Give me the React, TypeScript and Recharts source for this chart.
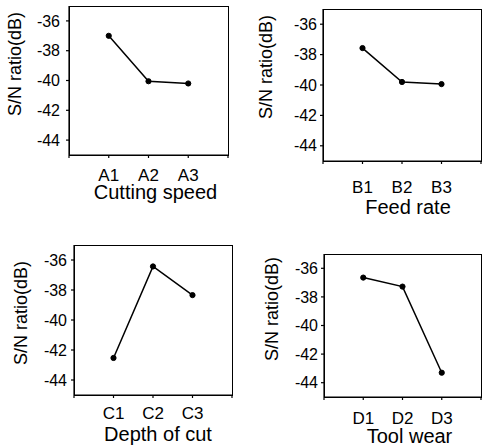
import React from 'react';
import { LineChart, Line, XAxis, YAxis } from 'recharts';

// ---- data ----
const cuttingSpeedLevels = ['A1', 'A2', 'A3'];
const cuttingSpeedSN = [-37.0, -40.05, -40.2];

const feedRateLevels = ['B1', 'B2', 'B3'];
const feedRateSN = [-37.57, -39.8, -39.94];

const depthOfCutLevels = ['C1', 'C2', 'C3'];
const depthOfCutSN = [-42.53, -36.43, -38.34];

const toolWearLevels = ['D1', 'D2', 'D3'];
const toolWearSN = [-36.65, -37.28, -43.3];

const yTicks = [-36, -38, -40, -42, -44];
const yDomain: [number, number] = [-45, -35];
const xDomain: [number, number] = [0, 4];
const xPositions = [0, 1, 2, 3, 4];
const yAxisTitle = 'S/N ratio(dB)';
const xAxisTitles = ['Cutting speed', 'Feed rate', 'Depth of cut', 'Tool wear'];

const FONT = '"Liberation Sans", Arial, Helvetica, sans-serif';
const INK = '#000';
const SW = 1.2;

type PanelProps = {
  left: number;
  top: number;
  width: number;
  height: number;
  boxTop: number;
  boxLeft: number;
  boxRight: number;
  xAxisHeight: number;
  levels: string[];
  values: number[];
  xTickMargin: number;
  yTickMargin: number;
};

function Panel(p: PanelProps) {
  const data = p.levels.map((lv, i) => ({ x: i + 1, level: lv, sn: p.values[i] }));
  const fmt = (v: number) => (v >= 1 && v <= p.levels.length ? p.levels[v - 1] : '');
  const plotW = p.boxRight - p.boxLeft;
  const plotH = p.height - p.xAxisHeight - p.boxTop;
  return (
    <div style={{ position: 'absolute', left: p.left, top: p.top, width: p.width, height: p.height }}>
      <LineChart
        width={p.width}
        height={p.height}
        data={data}
        margin={{ top: p.boxTop, left: 0, right: p.width - p.boxRight, bottom: 0 }}
      >
        <XAxis
          dataKey="x"
          type="number"
          domain={xDomain}
          ticks={xPositions}
          tickFormatter={fmt}
          height={p.xAxisHeight}
          stroke={INK}
          strokeWidth={SW}
          tickSize={3}
          tickMargin={p.xTickMargin}
          tick={{ fill: INK, fontSize: 17, fontFamily: FONT }}
          interval={0}
        />
        <YAxis
          type="number"
          domain={yDomain}
          ticks={yTicks}
          width={p.boxLeft}
          stroke={INK}
          strokeWidth={SW}
          tickSize={3}
          tickMargin={p.yTickMargin}
          tick={{ fill: INK, fontSize: 16, fontFamily: FONT }}
          interval={0}
        />
        <Line
          type="linear"
          dataKey="sn"
          stroke={INK}
          strokeWidth={1.5}
          dot={{ r: 2.6, fill: INK, stroke: INK, strokeWidth: 1 }}
          isAnimationActive={false}
        />
      </LineChart>
      {/* frame around the plotting area */}
      <div
        style={{
          position: 'absolute',
          left: p.boxLeft - 0.5,
          top: p.boxTop - 0.5,
          width: plotW + 1,
          height: plotH + 1,
          border: `1px solid ${INK}`,
          boxSizing: 'border-box',
          pointerEvents: 'none',
        }}
      />
    </div>
  );
}

// axis titles: [centerX, centerY] for rotated y titles, [centerX, baseline] for x titles
const yTitlePos = [[15, 64], [266, 67], [21, 313], [272, 309]];
const xTitlePos = [[155.5, 199], [408, 214], [158, 441], [409.5, 443]];

function Titles() {
  return (
    <svg width={482} height={445} style={{ position: 'absolute', left: 0, top: 0, pointerEvents: 'none' }}>
      {yTitlePos.map(([x, y], i) => (
        <text
          key={'y' + i}
          x={x}
          y={y}
          transform={`rotate(-90 ${x} ${y})`}
          textAnchor="middle"
          dominantBaseline="central"
          fontSize={18}
          fontFamily={FONT}
          fill={INK}
        >
          {yAxisTitle}
        </text>
      ))}
      {xTitlePos.map(([x, y], i) => (
        <text key={'x' + i} x={x} y={y} textAnchor="middle" fontSize={20} fontFamily={FONT} fill={INK}>
          {xAxisTitles[i]}
        </text>
      ))}
    </svg>
  );
}

export default function App() {
  return (
    <div style={{ position: 'absolute', left: 0, top: 0, width: 482, height: 445, background: '#fff', overflow: 'hidden' }}>
      <Panel
        left={0} top={0} width={241} height={222}
        boxTop={6} boxLeft={69} boxRight={228} xAxisHeight={67}
        levels={cuttingSpeedLevels} values={cuttingSpeedSN}
        xTickMargin={11} yTickMargin={6}
      />
      <Panel
        left={241} top={0} width={241} height={222}
        boxTop={9} boxLeft={82} boxRight={240} xAxisHeight={61}
        levels={feedRateLevels} values={feedRateSN}
        xTickMargin={17} yTickMargin={3}
      />
      <Panel
        left={0} top={222} width={241} height={223}
        boxTop={23} boxLeft={74} boxRight={232} xAxisHeight={50}
        levels={depthOfCutLevels} values={depthOfCutSN}
        xTickMargin={9} yTickMargin={4}
      />
      <Panel
        left={241} top={222} width={241} height={223}
        boxTop={32} boxLeft={83} boxRight={240} xAxisHeight={48}
        levels={toolWearLevels} values={toolWearSN}
        xTickMargin={12} yTickMargin={3}
      />
      <Titles />
    </div>
  );
}
